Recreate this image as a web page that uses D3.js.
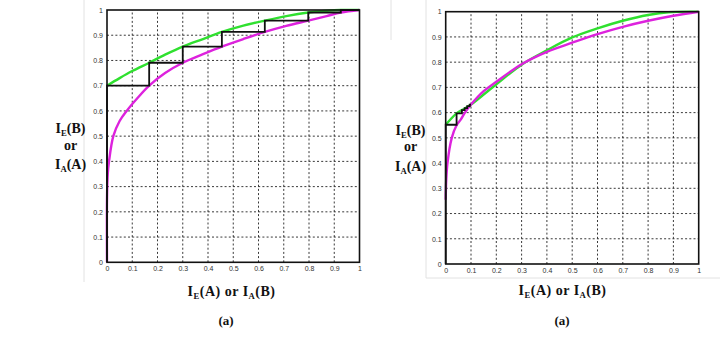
<!DOCTYPE html>
<html>
<head>
<meta charset="utf-8">
<script src="https://cdn.jsdelivr.net/npm/d3@7"></script>
<style>
  html, body { margin: 0; padding: 0; background: #fff; }
  svg { display: block; }
  .lbl { font-family: "Liberation Serif", "Times New Roman", serif; font-weight: bold; fill: #111; }
  .tick text { font-family: "Liberation Sans", Arial, sans-serif; font-size: 7px; fill: #333; }
</style>
</head>
<body>
<svg id="chart" width="720" height="338"></svg>
<script>
// Tick values and labels shared by both EXIT charts
const tickValues = [0, 0.1, 0.2, 0.3, 0.4, 0.5, 0.6, 0.7, 0.8, 0.9, 1];
const tickLabels = ["0", "0.1", "0.2", "0.3", "0.4", "0.5", "0.6", "0.7", "0.8", "0.9", "1"];

// Left chart: decoder A transfer curve (green)
const leftGreenX = [0, 0.05, 0.1, 0.167, 0.23, 0.3, 0.38, 0.455, 0.54, 0.625, 0.71, 0.797, 0.87, 0.926, 1];
const leftGreenY = [0.7, 0.73, 0.758, 0.791, 0.823, 0.855, 0.885, 0.913, 0.938, 0.958, 0.976, 0.99, 0.997, 1.0, 1.0];
// Left chart: decoder B transfer curve, axes swapped (magenta)
const leftMagentaX = [0, 0, 0.003, 0.008, 0.025, 0.05, 0.078, 0.12, 0.167, 0.23, 0.3, 0.38, 0.455, 0.54, 0.625, 0.71, 0.797, 0.87, 0.926, 1];
const leftMagentaY = [0, 0.25, 0.35, 0.4, 0.5, 0.56, 0.6, 0.65, 0.7, 0.75, 0.791, 0.825, 0.855, 0.885, 0.913, 0.937, 0.958, 0.976, 0.99, 1];
// Left chart: decoding trajectory
const leftStairX = [0, 0, 0.167, 0.167, 0.3, 0.3, 0.455, 0.455, 0.625, 0.625, 0.797, 0.797, 0.926, 0.926, 1];
const leftStairY = [0, 0.7, 0.7, 0.791, 0.791, 0.855, 0.855, 0.913, 0.913, 0.958, 0.958, 0.99, 0.99, 1.0, 1.0];

// Right chart: decoder A transfer curve (green)
const rightGreenX = [0, 0.043, 0.064, 0.1, 0.15, 0.2, 0.3, 0.4, 0.5, 0.6, 0.7, 0.8, 0.88, 1];
const rightGreenY = [0.552, 0.597, 0.61, 0.632, 0.672, 0.712, 0.79, 0.847, 0.898, 0.934, 0.964, 0.987, 0.998, 1];
// Right chart: decoder B transfer curve, axes swapped (magenta)
const rightMagentaX = [0, 0.002, 0.007, 0.024, 0.043, 0.06, 0.076, 0.1, 0.15, 0.2, 0.3, 0.4, 0.5, 0.6, 0.7, 0.8, 0.9, 1];
const rightMagentaY = [0.255, 0.33, 0.4, 0.5, 0.55, 0.573, 0.6, 0.632, 0.685, 0.722, 0.792, 0.841, 0.877, 0.911, 0.94, 0.964, 0.984, 1];
// Right chart: decoding trajectory (stalls near 0.1)
const rightStairX = [0, 0, 0.043, 0.043, 0.064, 0.064, 0.075, 0.075, 0.085, 0.085, 0.095, 0.095, 0.1];
const rightStairY = [0, 0.552, 0.552, 0.597, 0.597, 0.61, 0.61, 0.618, 0.618, 0.626, 0.626, 0.632, 0.632];

const svg = d3.select("#chart");

// faint figure frames
const frames = [
  [84, 0, 84, 282], [391, 0, 391, 40],
  [426, 0, 426, 278], [426, 278, 720, 278]
];
svg.selectAll("line.frame").data(frames).join("line")
  .attr("class", "frame")
  .attr("x1", d => d[0]).attr("y1", d => d[1])
  .attr("x2", d => d[2]).attr("y2", d => d[3])
  .attr("stroke", "#e2e2e2").attr("stroke-width", 1);

function zip(xs, ys) { return xs.map((x, i) => [x, ys[i]]); }

function drawPanel(box, series) {
  const x = d3.scaleLinear().domain([0, 1]).range([box.x0, box.x1]);
  const y = d3.scaleLinear().domain([0, 1]).range([box.y0, box.y1]);
  const g = svg.append("g");
  const w = box.x1 - box.x0, h = box.y0 - box.y1;

  // dotted grid
  const grid = g.append("g").attr("stroke", "#222").attr("stroke-width", 0.9)
    .attr("stroke-dasharray", "2,2.2");
  grid.selectAll("line.v").data(tickValues.slice(1, -1)).join("line")
    .attr("x1", d => x(d)).attr("x2", d => x(d))
    .attr("y1", box.y0).attr("y2", box.y1);
  grid.selectAll("line.h").data(tickValues.slice(1, -1)).join("line")
    .attr("y1", d => y(d)).attr("y2", d => y(d))
    .attr("x1", box.x0).attr("x2", box.x1);

  // tick labels
  const fmt = v => tickLabels[tickValues.indexOf(v)];
  const ax = g.append("g").attr("transform", `translate(0,${box.y0})`)
    .call(d3.axisBottom(x).tickValues(tickValues).tickFormat(fmt).tickSize(0).tickPadding(4));
  const ay = g.append("g").attr("transform", `translate(${box.x0},0)`)
    .call(d3.axisLeft(y).tickValues(tickValues).tickFormat(fmt).tickSize(0).tickPadding(4));
  ax.select(".domain").remove();
  ay.select(".domain").remove();

  const line = d3.line().x(d => x(d[0])).y(d => y(d[1]));
  const smooth = d3.line().x(d => x(d[0])).y(d => y(d[1])).curve(d3.curveCatmullRom.alpha(0.5));

  g.append("path").datum(zip(series.gx, series.gy)).attr("d", smooth)
    .attr("fill", "none").attr("stroke", "#2fe02f").attr("stroke-width", 2.4);
  g.append("path").datum(zip(series.mx, series.my)).attr("d", smooth)
    .attr("fill", "none").attr("stroke", "#dd22dd").attr("stroke-width", 2.4);

  // axes box
  g.append("rect").attr("x", box.x0).attr("y", box.y1).attr("width", w).attr("height", h)
    .attr("fill", "none").attr("stroke", "#111").attr("stroke-width", 1.6);

  g.append("path").datum(zip(series.sx, series.sy)).attr("d", line)
    .attr("fill", "none").attr("stroke", "#111").attr("stroke-width", 1.8);
}

drawPanel({ x0: 107, x1: 359.5, y0: 262.3, y1: 10 },
  { gx: leftGreenX, gy: leftGreenY, mx: leftMagentaX, my: leftMagentaY, sx: leftStairX, sy: leftStairY });
drawPanel({ x0: 445.7, x1: 698.7, y0: 264, y1: 11.7 },
  { gx: rightGreenX, gy: rightGreenY, mx: rightMagentaX, my: rightMagentaY, sx: rightStairX, sy: rightStairY });

// axis titles: I with subscript, bold serif
function label(cx, baseline, parts, size, spacing) {
  const t = svg.append("text").attr("class", "lbl").attr("x", cx).attr("y", baseline)
    .attr("text-anchor", "middle").attr("font-size", size)
    .attr("letter-spacing", spacing || 0);
  parts.forEach(p => {
    const s = t.append("tspan").text(p.t);
    if (p.sub) s.attr("font-size", size * 0.62).attr("dy", 3);
    else if (p.after) s.attr("dy", -3);
  });
}
const yTitle = [
  [{ t: "I" }, { t: "E", sub: true }, { t: "(B)", after: true }],
  [{ t: "or" }],
  [{ t: "I" }, { t: "A", sub: true }, { t: "(A)", after: true }]
];
const xTitle = [{ t: "I" }, { t: "E", sub: true }, { t: "(A) or I", after: true }, { t: "A", sub: true }, { t: "(B)", after: true }];

[[70.5, [133, 149.5, 169]], [410.5, [134.5, 151, 170.5]]].forEach(([cx, ys]) => {
  yTitle.forEach((parts, i) => label(cx, ys[i], parts, 14));
});
label(231.5, 296, xTitle, 14, 0.5);
label(562.5, 295, xTitle, 14, 0.5);
label(226, 325, [{ t: "(a)" }], 13);
label(562, 325, [{ t: "(a)" }], 13);
</script>
</body>
</html>
